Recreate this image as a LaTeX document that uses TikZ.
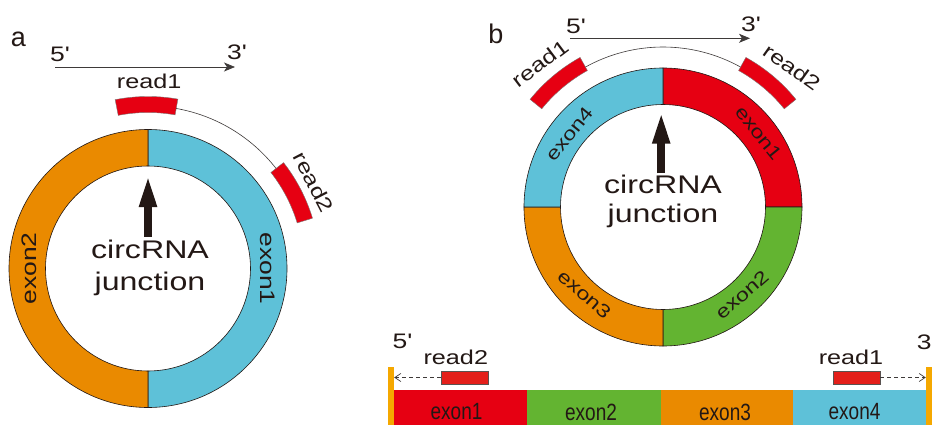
\documentclass[tikz,border=0pt]{standalone}
\usepackage{fontspec}
\setmainfont{Liberation Sans}
\newfontfamily\widefont{Liberation Sans}[FakeStretch=1.26]
\newfontfamily\narrowfont{Liberation Sans}[FakeStretch=0.81]
\usetikzlibrary{arrows.meta,calc}
\definecolor{ink}{HTML}{231815}
\definecolor{exred}{HTML}{E60012}
\definecolor{exgreen}{HTML}{63B431}
\definecolor{exorange}{HTML}{EA8A00}
\definecolor{exblue}{HTML}{5EC1D8}
\definecolor{endbar}{HTML}{F5A800}
\definecolor{readred}{HTML}{E41F1A}
\definecolor{thinline}{HTML}{3E3A39}
% annular sector: [style]{center}{inner r}{outer r}{start angle}{end angle}
\newcommand\annulus[6][]{\filldraw[ringline,#1,shift={(#2)}] (#5:#4pt) arc[start angle=#5,end angle=#6,radius=#4pt] -- (#6:#3pt) arc[start angle=#6,end angle=#5,radius=#3pt] -- cycle;}
\begin{document}
\begin{tikzpicture}[x=1pt,y=1pt,
  ringline/.style={draw=ink,line width=0.6pt},
  readarc/.style={fill=exred,draw=ink!60,line width=0.4pt},
  lab/.style={text=ink,inner sep=0pt},
  panellab/.style={lab,font={\fontsize{27}{27}\selectfont}},
  endlab/.style={lab,font={\widefont\fontsize{21}{21}\selectfont}},
  readlab/.style={lab,font={\widefont\fontsize{20}{20}\selectfont}},
  exlabA/.style={lab,font={\widefont\fontsize{21}{21}\selectfont}},
  exlabB/.style={lab,font={\widefont\fontsize{18.5}{18.5}\selectfont}},
  junclab/.style={lab,align=center},
  strandarrow/.style={draw=thinline,line width=0.8pt,-{Stealth[length=11pt,width=9pt,inset=3pt]}},
  bigarrow/.style={draw=ink,line width=7.5pt,-{Triangle[length=32pt,width=16pt]}},
  thinarc/.style={draw=thinline,line width=0.6pt},
  barseg/.style={rectangle,inner sep=0pt,minimum height=44pt,text=ink,font={\narrowfont\fontsize{23.5}{24}\selectfont}},
  endbox/.style={rectangle,fill=endbar,inner sep=0pt,minimum width=6pt,minimum height=68pt},
  readrect/.style={rectangle,fill=readred,draw=ink!75,line width=0.6pt,inner sep=0pt,minimum width=47pt,minimum height=13pt},
  dasharr/.style={draw=thinline,line width=0.7pt,dash pattern=on 4pt off 3pt,-{Straight Barb[length=6pt,width=8pt]}}
]
\useasboundingbox (0,0) rectangle (932,-425);
\fill[white] (0,0) rectangle (932,-425);

% ================= panel a =================
\coordinate (A) at (148,-268.5);
\node[panellab,anchor=base] (pa) at (18.3,-46.7) {a};
\node[endlab,anchor=base] (a5) at (60,-61.7) {5'};
\node[endlab,anchor=base] (a3) at (237,-60) {3'};
\coordinate (as) at (55,-67);
\coordinate (ae) at (235,-67);
\draw[strandarrow] (as) -- (ae);

\annulus[fill=exblue]{A}{102.5}{139}{90}{-90}
\annulus[fill=exorange]{A}{102.5}{139}{90}{270}
\annulus[readarc]{A}{156}{172}{80}{101}
\annulus[readarc]{A}{156}{172}{17}{38}
\coordinate (ar1) at ($(A)+(80:162.5pt)$);
\coordinate (ar2) at ($(A)+(38:162.5pt)$);
\draw[thinarc] (ar1) arc[start angle=80,end angle=38,radius=162.5pt];

\node[readlab,anchor=base] (ra1) at (149.2,-88.3) {read1};
\node[readlab,rotate=-62.5] (ra2) at ($(A)+(27.5:187pt)$) {read2};
\node[exlabA,rotate=-90] (ea1) at ($(A)+(0:119.5pt)$) {exon1};
\node[exlabA,rotate=90] (ea2) at ($(A)+(180:119pt)$) {exon2};

\node[junclab,font={\widefont\fontsize{25.5}{31.7}\selectfont}] (ja) at (150,-267.6) {circRNA\\junction};
\coordinate (abot) at (148,-236.5);
\coordinate (atop) at (148,-175);
\draw[bigarrow] (abot) -- (atop);

% ================= panel b =================
\coordinate (B) at (663,-207);
\node[panellab,anchor=base] (pb) at (495.8,-43.3) {b};
\node[endlab,anchor=base] (b5) at (576,-33.3) {5'};
\node[endlab,anchor=base] (b3) at (751,-31.7) {3'};
\coordinate (bs) at (570,-38.3);
\coordinate (be) at (750,-38.3);
\draw[strandarrow] (bs) -- (be);

\annulus[fill=exred]{B}{102.5}{139}{90}{0}
\annulus[fill=exgreen]{B}{102.5}{139}{0}{-90}
\annulus[fill=exorange]{B}{102.5}{139}{-90}{-180}
\annulus[fill=exblue]{B}{102.5}{139}{180}{90}
\annulus[readarc]{B}{156}{171}{119}{141}
\annulus[readarc]{B}{156}{171}{39}{61}
\coordinate (br1) at ($(B)+(119:160pt)$);
\coordinate (br2) at ($(B)+(61:160pt)$);
\draw[thinarc] (br1) arc[start angle=119,end angle=61,radius=160pt];

\node[readlab,rotate=37] (rb1) at ($(B)+(130.5:189pt)$) {read1};
\node[readlab,rotate=-35.5] (rb2) at ($(B)+(47.3:190pt)$) {read2};
\node[exlabB,rotate=-51] (eb1) at ($(B)+(37.5:121pt)$) {exon1};
\node[exlabB,rotate=41] (eb2) at ($(B)+(-48:118pt)$) {exon2};
\node[exlabB,rotate=-41] (eb3) at ($(B)+(-132:117.5pt)$) {exon3};
\node[exlabB,rotate=51] (eb4) at ($(B)+(142:119pt)$) {exon4};

\node[junclab,font={\widefont\fontsize{25.5}{29.4}\selectfont}] (jb) at (663,-201.5) {circRNA\\junction};
\coordinate (bbot) at (661.2,-173.3);
\coordinate (btop) at (661.2,-111.7);
\draw[bigarrow] (bbot) -- (btop);

% ================= linear transcript =================
\node[barseg,fill=exred,minimum width=133pt] (s1) at (460.5,-412) {exon1\hspace*{8pt}};
\node[barseg,fill=exgreen,minimum width=134pt] (s2) at (594,-412) {exon2\hspace*{6pt}};
\node[barseg,fill=exorange,minimum width=132pt] (s3) at (727,-412) {exon3\hspace*{4pt}};
\node[barseg,fill=exblue,minimum width=133pt] (s4) at (859.5,-412) {exon4\hspace*{10pt}};
\node[endbox] (lbar) at (391,-401) {};
\node[endbox] (rbar) at (929,-401) {};

\node[readrect] (lr2) at (464.5,-377.5) {};
\node[readrect] (lr1) at (856.5,-377.5) {};
\draw[dasharr] (lr2.west) -- (lr2.west -| lbar.east);
\draw[dasharr] (lr1.east) -- (lr1.east -| rbar.west);

\node[readlab,anchor=base] (lrl2) at (455.8,-364.3) {read2};
\node[readlab,anchor=base] (lrl1) at (851,-364.3) {read1};
\node[endlab,anchor=base] (l5) at (402.5,-348) {5'};
\node[endlab,anchor=base west] (l3) at (916.7,-349) {3'};
\end{tikzpicture}
\end{document}
